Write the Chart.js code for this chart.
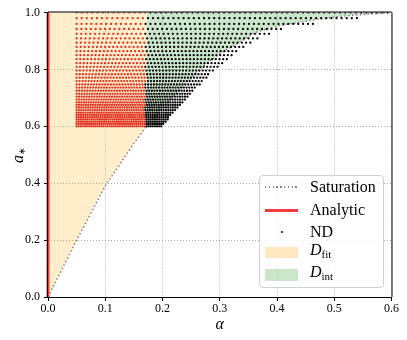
<!DOCTYPE html>
<html>
<head>
<meta charset="utf-8">
<script src="https://cdn.jsdelivr.net/npm/chart.js@4.4.1/dist/chart.umd.min.js"></script>
<style>
    body { margin: 0; background: #fff; }
    #wrap { position: relative; width: 407px; height: 340px; font-family: 'Liberation Serif', serif; color: #000; }
    #ytitle { position: absolute; left: 18px; top: 155px; transform: translate(-50%, -50%) rotate(-90deg); font-size: 16px; white-space: nowrap; }
    #ytitle sub { font-size: 9px; font-style: normal; vertical-align: -2px; }
    .legend { position: absolute; left: 259px; top: 175px; width: 125px; height: 113px; box-sizing: border-box;
              border: 1px solid #d0d0d0; border-radius: 4px; background: rgba(255,255,255,0.8); }
    .sw { position: absolute; left: 5px; width: 33px; }
    .lab { position: absolute; left: 50px; font-size: 16px; line-height: 16px; transform: translateY(-50%); white-space: nowrap; }
    .lab sub { font-size: 11px; vertical-align: -3px; }
</style>
</head>
<body>
<div id="wrap">
    <canvas id="chart" width="407" height="340"></canvas>
    <div id="ytitle"><i>a</i><sub>∗</sub></div>
    <div class="legend">
        <div class="sw" style="top:10px;height:1.5px;background:repeating-linear-gradient(to right,#808080 0 1.5px,transparent 1.5px 3.8px);"></div>
        <div class="lab" style="top:11px;">Saturation</div>
        <div class="sw" style="top:32.5px;height:3px;background:#f23c3c;"></div>
        <div class="lab" style="top:34px;">Analytic</div>
        <div class="sw" style="top:54.5px;left:20.5px;width:2px;height:2px;background:#000;border-radius:1px;"></div>
        <div class="lab" style="top:56px;">ND</div>
        <div class="sw" style="top:71px;height:11px;background:rgba(255,165,0,0.25);"></div>
        <div class="lab" style="top:76px;"><i>D</i><sub>fit</sub></div>
        <div class="sw" style="top:93px;height:11.5px;background:rgba(0,128,0,0.2);"></div>
        <div class="lab" style="top:98px;"><i>D</i><sub>int</sub></div>
    </div>
</div>
<script>
// saturation curve (alpha, a_*)
const satAlpha = [0, 0.05, 0.10, 0.15, 0.172, 0.20, 0.235, 0.27, 0.30, 0.33, 0.362, 0.40, 0.46, 0.51, 0.55, 0.60];
const satSpin  = [0, 0.20, 0.39, 0.54, 0.60, 0.665, 0.74, 0.81, 0.855, 0.89, 0.93, 0.952, 0.973, 0.986, 0.993, 1.0];
const fitEdge = 0.172;   // border between D_fit and D_int

// analytic line
const analyticAlpha = [0, 0];
const analyticSpin = [0, 1];

// ND grid: one row per spin, each row starting at ndStart with its own step, up to ndEnd
const ndStart = 0.05;
const redLimit = 0.17;
const ndSpin = [0.600, 0.608, 0.616, 0.624, 0.632, 0.640, 0.648, 0.657, 0.666, 0.675, 0.684, 0.694,
                0.704, 0.714, 0.725, 0.736, 0.747, 0.759, 0.771, 0.783, 0.796, 0.809, 0.822, 0.836,
                0.850, 0.864, 0.879, 0.894, 0.909, 0.925, 0.942, 0.960, 0.980, 1.000];
const ndStep = [0.0036, 0.0036, 0.0037, 0.0037, 0.0038, 0.0038, 0.0039, 0.0040, 0.0040, 0.0041, 0.0042, 0.0043,
                0.0044, 0.0045, 0.0047, 0.0048, 0.0050, 0.0052, 0.0054, 0.0056, 0.0058, 0.0060, 0.0062, 0.0064,
                0.0066, 0.0068, 0.0071, 0.0074, 0.0077, 0.0080, 0.0083, 0.0086, 0.0089, 0.0092];
const ndEnd  = [0.199, 0.202, 0.206, 0.210, 0.213, 0.217, 0.221, 0.225, 0.229, 0.233, 0.237, 0.241,
                0.246, 0.251, 0.256, 0.261, 0.267, 0.273, 0.279, 0.285, 0.292, 0.299, 0.306, 0.314,
                0.323, 0.333, 0.344, 0.358, 0.372, 0.388, 0.412, 0.470, 0.540, 0.600];

const xTicks = [0, 0.1, 0.2, 0.3, 0.4, 0.5, 0.6];
const yTicks = [0, 0.2, 0.4, 0.6, 0.8, 1.0];

const satPts = satAlpha.map((x, i) => ({ x, y: satSpin[i] }));
const fitPts = satPts.filter(p => p.x <= fitEdge);
const intPts = satPts.filter(p => p.x >= fitEdge);

const redPts = [], blackPts = [];
ndSpin.forEach((a, i) => {
    for (let j = 0; ; j++) {
        const x = +(ndStart + j * ndStep[i]).toFixed(4);
        if (x > ndEnd[i] + 1e-9) break;
        (x < redLimit ? redPts : blackPts).push({ x, y: a });
    }
});

const spines = {
    id: 'spines',
    afterDatasetsDraw(chart) {
        const { ctx, chartArea: a } = chart;
        ctx.save();
        ctx.strokeStyle = '#000';
        ctx.lineWidth = 1;
        ctx.beginPath();
        ctx.moveTo(a.left - 0.5, a.top); ctx.lineTo(a.left - 0.5, a.bottom);
        ctx.moveTo(a.left, a.bottom + 0.5); ctx.lineTo(a.right, a.bottom + 0.5);
        ctx.moveTo(a.left, a.top - 0.5); ctx.lineTo(a.right, a.top - 0.5);
        ctx.moveTo(a.right + 0.5, a.top); ctx.lineTo(a.right + 0.5, a.bottom);
        ctx.stroke();
        ctx.restore();
    }
};

const dot = { showLine: false, pointRadius: 1.15, pointBorderWidth: 0, pointHoverRadius: 0 };
const gridOpts = {
    color: '#a8a8a8', lineWidth: 1, borderDash: [1, 2],
    tickColor: '#000', tickLength: 4, tickWidth: 1, tickBorderDash: []
};

new Chart(document.getElementById('chart').getContext('2d'), {
    type: 'line',
    data: {
        datasets: [
            {
                label: 'Analytic',
                data: analyticAlpha.map((x, i) => ({ x, y: analyticSpin[i] })),
                borderColor: 'rgba(240,40,40,0.9)', borderWidth: 3, pointRadius: 0, clip: false
            },
            { label: 'ND', data: blackPts, pointBackgroundColor: '#000', ...dot },
            { label: 'ND fit', data: redPts, pointBackgroundColor: '#e0301e', ...dot },
            {
                label: 'Saturation', data: satPts,
                borderColor: '#808080', borderWidth: 1.5, borderDash: [1.5, 2.4], pointRadius: 0
            },
            {
                label: 'D_int', data: intPts, borderWidth: 0, pointRadius: 0,
                fill: 'end', backgroundColor: 'rgba(0,128,0,0.2)'
            },
            {
                label: 'D_fit', data: fitPts, borderWidth: 0, pointRadius: 0,
                fill: 'end', backgroundColor: 'rgba(255,165,0,0.2)'
            }
        ]
    },
    options: {
        responsive: false,
        animation: false,
        layout: { padding: { top: 12.5, right: 15.5, left: 0, bottom: 0 } },
        plugins: {
            legend: { display: false },
            tooltip: { enabled: false },
            filler: { drawTime: 'beforeDatasetsDraw' }
        },
        scales: {
            x: {
                type: 'linear', min: 0, max: 0.6,
                afterFit: s => { s.height = 43; },
                afterBuildTicks: s => { s.ticks = xTicks.map(v => ({ value: v })); },
                ticks: {
                    color: '#000', padding: 1, maxRotation: 0,
                    font: { family: 'Liberation Serif', size: 12 },
                    callback: v => v.toFixed(1)
                },
                grid: gridOpts,
                border: { display: false, dash: [1, 2] },
                title: {
                    display: true, text: 'α', color: '#000',
                    font: { family: 'Liberation Serif', size: 16, style: 'italic' },
                    padding: { top: 0, bottom: 6 }
                }
            },
            y: {
                min: 0, max: 1,
                afterFit: s => { s.width = 48; },
                afterBuildTicks: s => { s.ticks = yTicks.map(v => ({ value: v })); },
                ticks: {
                    color: '#000', padding: 4,
                    font: { family: 'Liberation Serif', size: 12 },
                    callback: v => v.toFixed(1)
                },
                grid: gridOpts,
                border: { display: false, dash: [1, 2] }
            }
        }
    },
    plugins: [spines]
});
</script>
</body>
</html>
